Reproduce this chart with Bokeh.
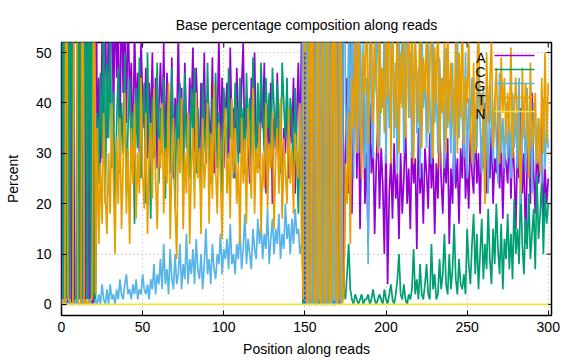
from bokeh.plotting import figure
from bokeh.models import Range1d, FixedTicker
from bokeh.core.properties import value
from bokeh.embed import file_html
from bokeh.resources import INLINE

# ---------------- data (percent of each base at each read position) ----------------
positions = list(range(301))

# positions 0-21
A_start = [0, 96, 0, 0, 1, 95, 0, 97, 0, 1, 0, 96, 0, 1, 95, 0, 96, 1, 97, 0, 1, 94]
C_start = [97, 1, 96, 1, 95, 0, 97, 1, 1, 0, 96, 1, 97, 0, 2, 96, 1, 95, 0, 96, 2, 1]
G_start = [0, 0, 1, 0, 0, 1, 0, 0, 0, 1, 0, 0, 0, 1, 0, 0, 0, 1, 0, 0, 0, 1]
T_start = [1, 0, 0, 96, 1, 1, 0, 0, 96, 95, 1, 0, 0, 97, 0, 1, 0, 0, 1, 1, 94, 2]

# positions 22-148
A_left = [30, 45, 28, 52, 38, 60, 33, 58, 40, 70,
          35, 62, 45, 55, 30, 65, 42, 57, 36, 60,
          40, 48, 27, 55, 38, 46, 30, 52, 41, 35,
          47, 29, 44, 36, 50, 31, 45, 27, 39, 48,
          33, 52, 28, 46, 37, 30, 49, 25, 41, 34,
          54, 31, 43, 26, 48, 35, 29, 45, 38, 51,
          30, 47, 36, 27, 44, 33, 50, 28, 42, 37,
          32, 49, 26, 40, 35, 53, 30, 45, 27, 38,
          44, 29, 51, 34, 39, 25, 47, 36, 30, 43,
          52, 28, 41, 33, 24, 45, 38, 50, 31, 36,
          27, 42, 35, 48, 22, 39, 31, 44, 20, 37,
          33, 46, 28, 40, 19, 35, 30, 43, 25, 38,
          32, 45, 22, 37, 48, 30, 55]
C_left = [38, 24, 46, 29, 60, 20, 48, 33, 55, 27,
          42, 18, 36, 47, 26, 40, 30, 50, 22, 35,
          45, 28, 38, 16, 43, 31, 49, 25, 37, 44,
          20, 50, 33, 17, 41, 29, 36, 48, 24, 39,
          30, 45, 21, 37, 42, 26, 47, 33, 19, 40,
          28, 44, 35, 23, 46, 31, 38, 25, 43, 34,
          47, 26, 39, 30, 21, 44, 36, 29, 48, 33,
          24, 41, 35, 46, 27, 38, 31, 22, 43, 36,
          29, 47, 33, 40, 25, 44, 37, 28, 45, 32,
          39, 26, 46, 34, 41, 29, 49, 36, 27, 44,
          33, 48, 38, 30, 45, 35, 42, 27, 47, 39,
          31, 44, 36, 26, 48, 40, 33, 45, 29, 41,
          37, 22, 43, 30, 18, 35, 25]
G_left = [0, 2, 0, 4, 1, 0, 3, 0, 4, 1,
          2, 0, 3, 1, 5, 2, 1, 4, 6, 2,
          3, 1, 4, 2, 5, 1, 3, 2, 6, 3,
          2, 4, 1, 5, 3, 8, 2, 6, 4, 9,
          3, 12, 4, 7, 2, 11, 5, 3, 10, 4,
          6, 12, 3, 8, 5, 14, 4, 9, 6, 11,
          4, 13, 7, 5, 10, 3, 8, 15, 6, 9,
          4, 12, 7, 5, 10, 8, 14, 6, 11, 9,
          13, 7, 16, 8, 10, 6, 12, 9, 15, 7,
          11, 18, 8, 13, 10, 7, 15, 11, 9, 17,
          12, 16, 9, 14, 11, 19, 8, 13, 17, 10,
          15, 12, 18, 9, 14, 11, 20, 13, 16, 10,
          17, 12, 19, 14, 15, 10, 12]
T_left = [35, 12, 28, 16, 38, 22, 14, 30, 18, 40,
          25, 10, 33, 20, 37, 15, 28, 42, 18, 31,
          12, 35, 24, 40, 17, 30, 22, 45, 26, 19,
          38, 14, 29, 36, 21, 43, 25, 15, 33, 27,
          40, 18, 31, 24, 44, 13, 28, 37, 20, 9,
          33, 26, 41, 15, 30, 22, 38, 12, 27, 35,
          19, 42, 25, 31, 14, 37, 23, 29, 40, 16,
          34, 21, 44, 27, 18, 36, 25, 13, 32, 39,
          22, 30, 17, 41, 26, 35, 20, 28, 12, 37,
          24, 33, 16, 39, 29, 21, 43, 18, 31, 26,
          36, 14, 30, 23, 40, 19, 32, 27, 38, 15,
          29, 35, 22, 41, 17, 33, 26, 20, 39, 24,
          31, 18, 34, 28, 25, 40, 13]

# positions 149-174
A_mid = [0, 1, 0, 96, 0, 1, 0, 95, 0, 1, 0, 97, 0, 1, 0, 0, 1, 96, 0, 0, 1, 95, 0, 1, 94, 2]
C_mid = [0, 0, 1, 0, 0, 0, 1, 0, 0, 0, 1, 0, 0, 0, 95, 1, 0, 0, 1, 0, 0, 1, 0, 0, 2, 3]
G_mid = [97, 0, 96, 1, 0, 96, 0, 1, 97, 0, 95, 1, 0, 96, 1, 0, 97, 1, 0, 96, 0, 1, 96, 0, 1, 90]
T_mid = [1, 96, 0, 1, 97, 0, 96, 1, 0, 95, 1, 0, 97, 0, 1, 96, 0, 1, 96, 1, 95, 0, 1, 96, 0, 2]

# positions 175-300
A_right = [30, 45, 22, 52, 18, 38, 60, 25, 42, 15,
           35, 48, 20, 30, 12, 40, 26, 33, 14, 28,
           36, 19, 31, 24, 10, 34, 4, 22, 29, 17,
           32, 21, 26, 13, 30, 18, 25, 36, 20, 27,
           15, 33, 24, 29, 11, 35, 22, 28, 16, 31,
           26, 19, 34, 23, 30, 14, 28, 21, 37, 25,
           18, 30, 24, 33, 12, 27, 20, 35, 23, 29,
           16, 31, 25, 38, 21, 28, 19, 34, 26, 22,
           36, 24, 30, 18, 33, 27, 40, 22, 31, 25,
           35, 20, 29, 26, 38, 23, 32, 17, 30, 28,
           24, 36, 21, 33, 27, 15, 31, 25, 39, 22,
           30, 12, 28, 35, 20, 42, 26, 18, 33, 24,
           29, 36, 15, 27, 20, 25]
C_right = [1, 6, 12, 3, 1, 0, 2, 1, 0, 1,
           2, 0, 1, 1, 2, 0, 1, 3, 1, 0,
           1, 2, 1, 0, 3, 1, 0, 2, 4, 1,
           0, 2, 5, 10, 2, 1, 4, 1, 0, 2,
           1, 3, 11, 2, 5, 1, 8, 2, 1, 4,
           8, 2, 1, 12, 3, 6, 1, 2, 9, 3,
           6, 14, 4, 2, 10, 3, 7, 16, 5, 2,
           9, 4, 3, 6, 2, 15, 8, 4, 12, 18,
           6, 14, 3, 10, 17, 5, 12, 7, 19, 9,
           4, 15, 8, 20, 11, 6, 16, 3, 13, 9,
           18, 7, 14, 5, 21, 10, 15, 8, 24, 12,
           6, 17, 11, 22, 9, 14, 19, 7, 26, 13,
           18, 25, 10, 22, 16, 20]
G_right = [40, 28, 55, 33, 70, 25, 48, 62, 30, 58,
           36, 52, 27, 45, 8, 60, 38, 29, 54, 42,
           65, 31, 47, 39, 56, 28, 50, 35, 44, 60,
           33, 48, 26, 53, 40, 57, 30, 45, 62, 37,
           50, 29, 43, 55, 34, 47, 25, 58, 39, 46,
           31, 52, 40, 28, 56, 36, 44, 30, 49, 38,
           45, 27, 51, 35, 42, 30, 48, 24, 40, 53,
           33, 46, 37, 29, 50, 25, 41, 34, 45, 28,
           39, 31, 47, 36, 26, 43, 30, 38, 22, 44,
           35, 28, 41, 33, 24, 46, 30, 37, 27, 40,
           29, 36, 25, 42, 31, 38, 27, 45, 20, 34,
           39, 26, 43, 30, 35, 22, 40, 33, 28, 37,
           30, 24, 41, 27, 36, 31]
T_right = [28, 20, 38, 12, 45, 35, 55, 30, 60, 40,
           25, 50, 42, 65, 32, 48, 58, 36, 52, 45,
           30, 60, 38, 47, 34, 56, 41, 70, 28, 53,
           44, 35, 62, 30, 50, 39, 58, 33, 48, 55,
           37, 60, 28, 52, 45, 36, 63, 31, 49, 42,
           55, 34, 47, 58, 29, 51, 40, 62, 27, 45,
           38, 52, 30, 57, 36, 48, 42, 33, 55, 30,
           50, 37, 60, 32, 45, 40, 53, 35, 28, 48,
           30, 46, 55, 38, 42, 33, 20, 50, 36, 44,
           53, 31, 40, 47, 35, 28, 49, 38, 45, 32,
           42, 34, 51, 29, 38, 45, 36, 30, 22, 47,
           33, 44, 39, 25, 48, 31, 36, 42, 28, 37,
           26, 45, 30, 50, 32, 44]

N_all = [0] * 301  # N is flat at zero over the whole read

# read-boundary marker
marker_pos = [150]
marker_bottom = [0]
marker_top = [50]

bases = ["A", "C", "G", "T", "N"]
colors = ["#9400d3", "#009e73", "#56b4e9", "#e69f00", "#f0e442"]
x_ticks = [0, 50, 100, 150, 200, 250, 300]
y_ticks = [0, 10, 20, 30, 40, 50]

A = A_start + A_left + A_mid + A_right
C = C_start + C_left + C_mid + C_right
G = G_start + G_left + G_mid + G_right
T = T_start + T_left + T_mid + T_right
series = [A, C, G, T, N_all]
for s in series:
    assert len(s) == len(positions), len(s)

# ---------------- figure ----------------
FONT = "Liberation Sans"
FS = "14px"
X0, X1 = 0, 302
Y0, Y1 = -2.2, 52
FW, FH = 490, 273  # frame size in px

p = figure(width=576, height=360, x_range=Range1d(X0, X1), y_range=Range1d(Y0, Y1),
           output_backend="svg", toolbar_location=None,
           min_border_left=61, min_border_right=25, min_border_top=42, min_border_bottom=45,
           title="Base percentage composition along reads")
p.background_fill_color = "white"
p.border_fill_color = "white"
p.outline_line_color = "black"
p.outline_line_width = 1.5
p.outline_line_alpha = 1

p.title.align = "center"
p.title.text_font = FONT
p.title.text_font_size = FS
p.title.text_font_style = "normal"
p.title.text_color = "black"
p.title.standoff = 20

for ax in (p.xaxis[0], p.yaxis[0]):
    ax.axis_line_color = None
    ax.major_tick_in = 5
    ax.major_tick_out = 0
    ax.major_tick_line_color = "black"
    ax.major_tick_line_width = 1
    ax.minor_tick_line_color = None
    ax.major_label_text_font = FONT
    ax.major_label_text_font_size = FS
    ax.major_label_text_color = "black"
    ax.axis_label_text_font = FONT
    ax.axis_label_text_font_size = FS
    ax.axis_label_text_font_style = "normal"
    ax.axis_label_text_color = "black"

p.xaxis[0].ticker = FixedTicker(ticks=x_ticks)
p.yaxis[0].ticker = FixedTicker(ticks=y_ticks)
p.xaxis[0].axis_label = "Position along reads"
p.yaxis[0].axis_label = "Percent"
p.xaxis[0].major_label_standoff = 6
p.xaxis[0].axis_label_standoff = 6
p.yaxis[0].major_label_standoff = 10
p.yaxis[0].axis_label_standoff = 12

p.xgrid.ticker = FixedTicker(ticks=x_ticks)
p.ygrid.ticker = FixedTicker(ticks=y_ticks)
for g in (p.xgrid[0], p.ygrid[0]):
    g.grid_line_color = "#b0b0b0"
    g.grid_line_width = 1
    g.grid_line_dash = "1 3"


def px_x(px):
    return X0 + px * (X1 - X0) / FW


def px_y(px):
    return Y1 - px * (Y1 - Y0) / FH


# mirrored inward ticks on the top and right borders
p.segment(x0=x_ticks, x1=x_ticks, y0=[Y1] * len(x_ticks), y1=[px_y(5)] * len(x_ticks),
          line_color="black", line_width=1)
p.segment(x0=[X1] * len(y_ticks), x1=[px_x(FW - 5)] * len(y_ticks), y0=y_ticks, y1=y_ticks,
          line_color="black", line_width=1)

# ---------------- series ----------------
for s, c in zip(series[:4], colors[:4]):
    p.line(positions, s, line_color=c, line_width=1.7)

p.segment(x0=marker_pos, y0=marker_bottom, x1=marker_pos, y1=marker_top,
          line_color="#1f3dff", line_width=1.5, line_dash="3 2")

p.line(positions, series[4], line_color=colors[4], line_width=1.7)

# ---------------- key (gnuplot style: label then sample line) ----------------
row_px = [13 + 14 * i for i in range(len(bases))]
p.text(x=[px_x(424)] * len(bases), y=[px_y(r + 2) for r in row_px], text=bases,
       text_align="right", text_baseline="middle", text_font=value(FONT),
       text_font_size=FS, text_color="black")
p.segment(x0=[px_x(433)] * len(bases), x1=[px_x(473)] * len(bases),
          y0=[px_y(r) for r in row_px], y1=[px_y(r) for r in row_px],
          line_color=colors, line_width=1.7)

open("out.html", "w").write(file_html(p, INLINE))
